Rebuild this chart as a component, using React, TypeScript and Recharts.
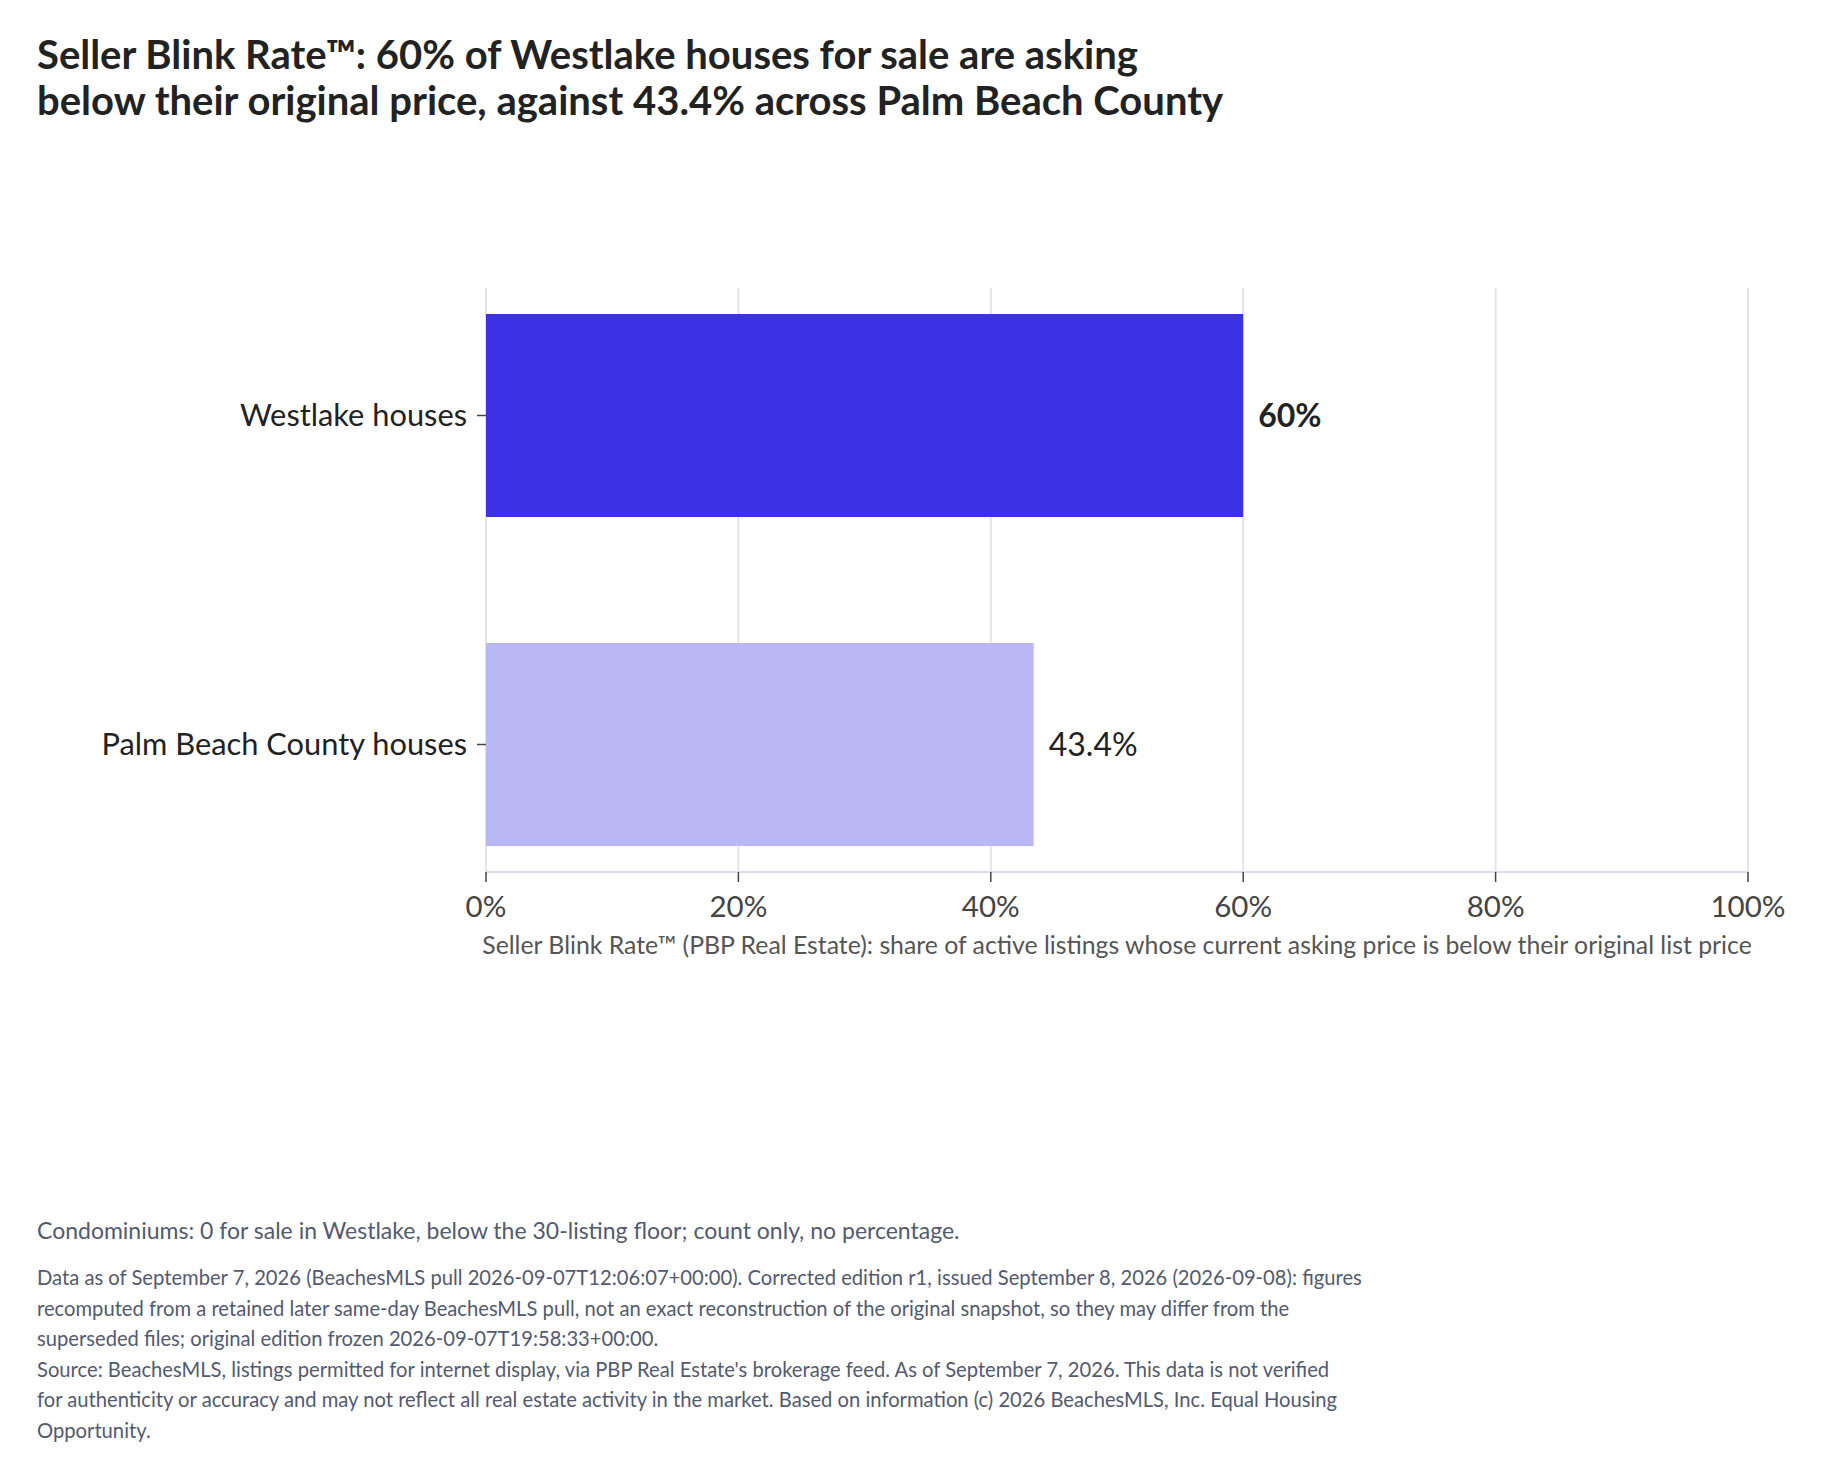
import { BarChart, Bar, XAxis, YAxis, CartesianGrid, Cell, LabelList } from "recharts";

const categories = ["Westlake houses", "Palm Beach County houses"];
const blinkRates = [60, 43.4];
const xTicks = [0, 20, 40, 60, 80, 100];
const barColors = ["#3c32e4", "#b9b8f5"];

const titleLines = [
  "Seller Blink Rate™: 60% of Westlake houses for sale are asking",
  "below their original price, against 43.4% across Palm Beach County",
];
const axisTitle =
  "Seller Blink Rate™ (PBP Real Estate): share of active listings whose current asking price is below their original list price";
const condoNote = "Condominiums: 0 for sale in Westlake, below the 30-listing floor; count only, no percentage.";
const footLines = [
  "Data as of September 7, 2026 (BeachesMLS pull 2026-09-07T12:06:07+00:00). Corrected edition r1, issued September 8, 2026 (2026-09-08): figures",
  "recomputed from a retained later same-day BeachesMLS pull, not an exact reconstruction of the original snapshot, so they may differ from the",
  "superseded files; original edition frozen 2026-09-07T19:58:33+00:00.",
  "Source: BeachesMLS, listings permitted for internet display, via PBP Real Estate's brokerage feed. As of September 7, 2026. This data is not verified",
  "for authenticity or accuracy and may not reflect all real estate activity in the market. Based on information (c) 2026 BeachesMLS, Inc. Equal Housing",
  "Opportunity.",
];

const data = categories.map((name, i) => ({ name, rate: blinkRates[i] }));

const FONT = "Lato, 'Noto Sans', sans-serif";

// bold label for the highlighted (first) bar, regular for the comparison
function ValueLabel(props: any) {
  const { x, y, width, height, value, index } = props;
  return (
    <text
      x={x + width + 15}
      y={y + height / 2}
      dy="0.36em"
      fontSize={32}
      fontFamily={FONT}
      fontWeight={index === 0 ? 700 : 400}
      fill="#222"
      textAnchor="start"
    >
      {`${value}%`}
    </text>
  );
}

export default function App() {
  return (
    <div
      style={{
        position: "absolute",
        left: 0,
        top: 0,
        width: 1821,
        height: 1477,
        background: "#fff",
        fontFamily: FONT,
      }}
    >
      <div
        style={{
          position: "absolute",
          left: 37,
          top: 31,
          fontSize: 40,
          lineHeight: "46px",
          fontWeight: 700,
          color: "#222",
          whiteSpace: "nowrap",
        }}
      >
        {titleLines.map((t) => (
          <div key={t}>{t}</div>
        ))}
      </div>

      <div style={{ position: "absolute", left: 0, top: 0 }}>
        <BarChart
          width={1821}
          height={972}
          data={data}
          layout="vertical"
          margin={{ top: 288, right: 73, bottom: 0, left: 0 }}
        >
          <CartesianGrid horizontal={false} stroke="#e3e3ef" strokeWidth={2} />
          <XAxis
            type="number"
            domain={[0, 100]}
            ticks={xTicks}
            tickFormatter={(v) => `${v}%`}
            height={100}
            tickSize={10}
            tickMargin={14}
            axisLine={{ stroke: "#dcdcec", strokeWidth: 2 }}
            tickLine={{ stroke: "#444", strokeWidth: 1.5 }}
            tick={{ fontSize: 29.5, fill: "#444", fontFamily: FONT }}
            label={{
              value: axisTitle,
              position: "insideBottom",
              offset: 18,
              fontSize: 24.8,
              fill: "#555",
              fontFamily: FONT,
            }}
          />
          <YAxis
            type="category"
            dataKey="name"
            width={486}
            padding={{ top: -37, bottom: -37 }}
            axisLine={false}
            tickSize={9}
            tickMargin={10}
            tickLine={{ stroke: "#444", strokeWidth: 1.5 }}
            tick={{ fontSize: 30.8, fill: "#222", fontFamily: FONT }}
          />
          <Bar dataKey="rate" barSize={203} isAnimationActive={false}>
            {data.map((d, i) => (
              <Cell key={d.name} fill={barColors[i]} />
            ))}
            <LabelList dataKey="rate" content={ValueLabel} />
          </Bar>
        </BarChart>
      </div>

      <div
        style={{
          position: "absolute",
          left: 37,
          top: 1215,
          fontSize: 23,
          lineHeight: "30px",
          color: "#535a6e",
          whiteSpace: "nowrap",
        }}
      >
        {condoNote}
      </div>
      <div
        style={{
          position: "absolute",
          left: 37,
          top: 1262,
          fontSize: 20.2,
          lineHeight: "30.5px",
          color: "#535a6e",
          whiteSpace: "nowrap",
        }}
      >
        {footLines.map((t) => (
          <div key={t}>{t}</div>
        ))}
      </div>
    </div>
  );
}
